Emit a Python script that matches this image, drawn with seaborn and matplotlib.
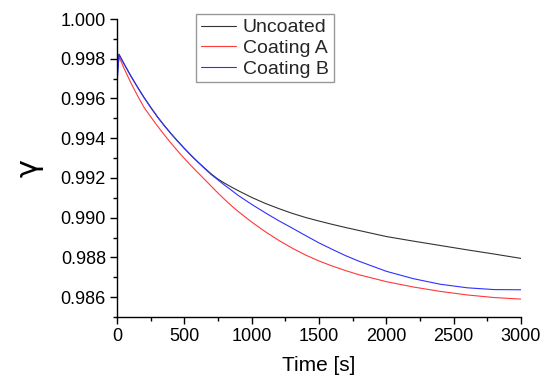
import numpy as np
import pandas as pd
import seaborn as sns
import matplotlib
matplotlib.use("Agg")
import matplotlib.pyplot as plt
from matplotlib.ticker import MultipleLocator, FormatStrFormatter

# values
time = [0, 15, 50, 100, 150, 200, 250, 300, 350, 400, 450, 500, 550, 600,
        650, 700, 750, 800, 850, 900, 1000, 1100, 1200, 1300, 1400, 1500,
        1600, 1700, 1800, 2000, 2200, 2400, 2600, 2800, 3000]

uncoated = [0.9977, 0.99823, 0.99778, 0.99717, 0.99660, 0.99606, 0.99556,
            0.99508, 0.99465, 0.99424, 0.99386, 0.99349, 0.99314, 0.99281,
            0.99250, 0.99220, 0.99194, 0.99173, 0.99154, 0.99136, 0.99102,
            0.99072, 0.99046, 0.99022, 0.99001, 0.98983, 0.98966, 0.98950,
            0.98935, 0.98905, 0.98882, 0.98860, 0.98838, 0.98817, 0.98795]

coating_a = [0.9971, 0.99810, 0.99755, 0.99683, 0.99617, 0.99556, 0.99508,
             0.99462, 0.99418, 0.99376, 0.99336, 0.99298, 0.99262, 0.99227,
             0.99193, 0.99158, 0.99124, 0.99091, 0.99060, 0.99031, 0.98978,
             0.98930, 0.98886, 0.98847, 0.98812, 0.98782, 0.98756, 0.98733,
             0.98712, 0.98678, 0.98651, 0.98629, 0.98611, 0.98598, 0.98590]

coating_b = [0.9967, 0.99820, 0.99776, 0.99716, 0.99659, 0.99605, 0.99555,
             0.99507, 0.99464, 0.99423, 0.99385, 0.99348, 0.99313, 0.99280,
             0.99248, 0.99217, 0.99190, 0.99163, 0.99138, 0.99112, 0.99067,
             0.99025, 0.98985, 0.98948, 0.98910, 0.98873, 0.98840, 0.98808,
             0.98780, 0.98730, 0.98693, 0.98665, 0.98647, 0.98638, 0.98637]

series = {"Uncoated": uncoated, "Coating A": coating_a, "Coating B": coating_b}
colors = {"Uncoated": "#333333", "Coating A": "#ff3838", "Coating B": "#3030ff"}

rows = []
for name, vals in series.items():
    for t, v in zip(time, vals):
        rows.append({"time": t, "gamma": v, "sample": name})
df = pd.DataFrame(rows)

sns.set_style("ticks")
plt.rcParams["font.family"] = ["Liberation Sans", "DejaVu Sans"]

fig = plt.figure(figsize=(5.47, 3.80), dpi=100)
ax = fig.add_axes([117 / 547, 1 - 317 / 380, 404 / 547, 298 / 380])

sns.lineplot(data=df, x="time", y="gamma", hue="sample", palette=colors,
             hue_order=list(series.keys()), linewidth=0.8, ax=ax)

ax.set_xlim(0, 3000)
ax.set_ylim(0.985, 1.000)
ax.xaxis.set_major_locator(MultipleLocator(500))
ax.xaxis.set_minor_locator(MultipleLocator(250))
ax.yaxis.set_major_locator(MultipleLocator(0.002))
ax.yaxis.set_minor_locator(MultipleLocator(0.001))
ax.yaxis.set_major_formatter(FormatStrFormatter("%.3f"))
ax.tick_params(which="major", direction="out", length=5, width=1,
               labelsize=13, colors="black", pad=3)
ax.tick_params(which="minor", direction="out", length=3, width=1,
               colors="black")

for side in ["top", "right"]:
    ax.spines[side].set_visible(False)
for side in ["left", "bottom"]:
    ax.spines[side].set_color("black")
    ax.spines[side].set_linewidth(1)

ax.set_xlabel("Time [s]", fontsize=15, labelpad=8, color="black")
ax.set_ylabel("γ", fontsize=22, labelpad=12, color="black",
              family=["DejaVu Sans"])

leg = ax.legend(loc="upper left", bbox_to_anchor=(196 / 547, 1 - 14 / 380),
                bbox_transform=fig.transFigure, borderaxespad=0,
                fontsize=14, frameon=True, fancybox=False, handlelength=1.8,
                handletextpad=0.36, labelspacing=0.15, borderpad=0.25)
leg.get_frame().set_edgecolor("#808080")
leg.get_frame().set_linewidth(1)
for line in leg.get_lines():
    line.set_linewidth(0.8)

fig.savefig("out.png", dpi=100)
